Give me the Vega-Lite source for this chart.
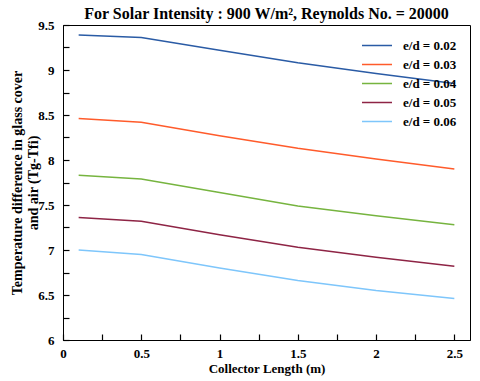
{
  "$schema": "https://vega.github.io/schema/vega-lite/v6.json",
  "width": 407,
  "height": 315,
  "autosize": {"type": "none"},
  "padding": {"left": 63, "top": 25, "right": 10, "bottom": 41},
  "background": "white",
  "title": {
    "text": "For Solar Intensity : 900 W/m², Reynolds No. = 20000",
    "font": "Liberation Serif",
    "fontSize": 16,
    "fontWeight": "bold",
    "color": "black",
    "anchor": "middle",
    "frame": "group",
    "offset": -3
  },
  "config": {
    "view": {"stroke": "black", "strokeWidth": 1},
    "font": "Liberation Serif"
  },
  "data": {
    "values": [
      {"L": 0.1, "T": 9.39, "s": "e/d = 0.02"},
      {"L": 0.5, "T": 9.36, "s": "e/d = 0.02"},
      {"L": 1.0, "T": 9.22, "s": "e/d = 0.02"},
      {"L": 1.5, "T": 9.08, "s": "e/d = 0.02"},
      {"L": 2.0, "T": 8.96, "s": "e/d = 0.02"},
      {"L": 2.5, "T": 8.85, "s": "e/d = 0.02"},
      {"L": 0.1, "T": 8.46, "s": "e/d = 0.03"},
      {"L": 0.5, "T": 8.42, "s": "e/d = 0.03"},
      {"L": 1.0, "T": 8.27, "s": "e/d = 0.03"},
      {"L": 1.5, "T": 8.13, "s": "e/d = 0.03"},
      {"L": 2.0, "T": 8.01, "s": "e/d = 0.03"},
      {"L": 2.5, "T": 7.90, "s": "e/d = 0.03"},
      {"L": 0.1, "T": 7.83, "s": "e/d = 0.04"},
      {"L": 0.5, "T": 7.79, "s": "e/d = 0.04"},
      {"L": 1.0, "T": 7.64, "s": "e/d = 0.04"},
      {"L": 1.5, "T": 7.49, "s": "e/d = 0.04"},
      {"L": 2.0, "T": 7.38, "s": "e/d = 0.04"},
      {"L": 2.5, "T": 7.28, "s": "e/d = 0.04"},
      {"L": 0.1, "T": 7.36, "s": "e/d = 0.05"},
      {"L": 0.5, "T": 7.32, "s": "e/d = 0.05"},
      {"L": 1.0, "T": 7.17, "s": "e/d = 0.05"},
      {"L": 1.5, "T": 7.03, "s": "e/d = 0.05"},
      {"L": 2.0, "T": 6.92, "s": "e/d = 0.05"},
      {"L": 2.5, "T": 6.82, "s": "e/d = 0.05"},
      {"L": 0.1, "T": 7.00, "s": "e/d = 0.06"},
      {"L": 0.5, "T": 6.95, "s": "e/d = 0.06"},
      {"L": 1.0, "T": 6.80, "s": "e/d = 0.06"},
      {"L": 1.5, "T": 6.66, "s": "e/d = 0.06"},
      {"L": 2.0, "T": 6.55, "s": "e/d = 0.06"},
      {"L": 2.5, "T": 6.46, "s": "e/d = 0.06"}
    ]
  },
  "mark": {"type": "line", "strokeWidth": 1.5},
  "encoding": {
    "x": {
      "field": "L",
      "type": "quantitative",
      "scale": {"domain": [0, 2.6], "nice": false, "zero": false},
      "axis": {
        "title": "Collector Length (m)",
        "values": [0, 0.25, 0.5, 0.75, 1, 1.25, 1.5, 1.75, 2, 2.25, 2.5],
        "labelExpr": "datum.value % 0.5 === 0 ? format(datum.value, '~g') : ''",
        "grid": false,
        "domainColor": "black",
        "tickColor": "black",
        "tickWidth": 1.2,
        "tickSize": -6,
        "labelPadding": 13,
        "labelFont": "Liberation Serif",
        "labelFontSize": 13,
        "labelFontWeight": "bold",
        "labelColor": "black",
        "labelFlush": false,
        "titleFont": "Liberation Serif",
        "titleFontSize": 13,
        "titleFontWeight": "bold",
        "titleColor": "black",
        "titlePadding": 2
      }
    },
    "y": {
      "field": "T",
      "type": "quantitative",
      "scale": {"domain": [6, 9.5], "nice": false, "zero": false},
      "axis": {
        "title": ["Temperature difference in glass cover", "and air (Tg-Tfi)"],
        "values": [6, 6.25, 6.5, 6.75, 7, 7.25, 7.5, 7.75, 8, 8.25, 8.5, 8.75, 9, 9.25, 9.5],
        "labelExpr": "datum.value % 0.5 === 0 ? format(datum.value, '~g') : ''",
        "grid": false,
        "domainColor": "black",
        "tickColor": "black",
        "tickWidth": 1.2,
        "tickSize": -6,
        "labelPadding": 15,
        "labelFont": "Liberation Serif",
        "labelFontSize": 13,
        "labelFontWeight": "bold",
        "labelColor": "black",
        "labelFlush": false,
        "titleFont": "Liberation Serif",
        "titleFontSize": 14,
        "titleFontWeight": "bold",
        "titleColor": "black",
        "titleLineHeight": 16,
        "titlePadding": -3
      }
    },
    "color": {
      "field": "s",
      "type": "nominal",
      "scale": {
        "domain": ["e/d = 0.02", "e/d = 0.03", "e/d = 0.04", "e/d = 0.05", "e/d = 0.06"],
        "range": ["#2a5ba5", "#ff5b2b", "#76b43f", "#8e2445", "#7ec6fb"]
      },
      "legend": {
        "title": null,
        "orient": "none",
        "legendX": 298,
        "legendY": 11,
        "symbolType": "stroke",
        "symbolSize": 900,
        "symbolStrokeWidth": 1.5,
        "clipHeight": 19,
        "labelFont": "Liberation Serif",
        "labelFontSize": 13,
        "labelFontWeight": "bold",
        "labelColor": "black",
        "rowPadding": 0,
        "labelOffset": 10
      }
    }
  }
}
